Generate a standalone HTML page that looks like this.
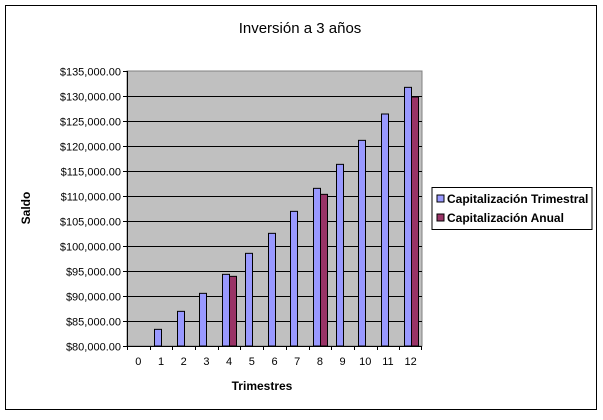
<!DOCTYPE html>
<html><head><meta charset="utf-8"><style>
body{margin:0;background:#fff;font-family:"Liberation Sans",Arial,sans-serif}
svg text{font-family:"Liberation Sans",Arial,sans-serif}
</style></head><body>
<svg id="c" width="603" height="415" xmlns="http://www.w3.org/2000/svg">
<rect x="5.5" y="5.5" width="591" height="404" fill="#fff" stroke="#000"/>
<text x="300" y="33" font-size="15" text-anchor="middle">Inversión a 3 años</text>
<rect x="127" y="71" width="295" height="275" fill="#c0c0c0" stroke="#808080"/>
<g id="grid"></g><g id="bars"></g><g id="axes"></g>
<text x="262" y="390" font-size="12" font-weight="bold" text-anchor="middle">Trimestres</text>
<text transform="translate(30,208) rotate(-90)" font-size="12" font-weight="bold" text-anchor="middle">Saldo</text>
<g>
<rect x="432" y="187.5" width="160" height="42" fill="#fff" stroke="#000"/>
<rect x="437" y="195" width="7" height="7" fill="#9999ff" stroke="#000"/>
<text x="447" y="203" font-size="12" font-weight="bold">Capitalización Trimestral</text>
<rect x="437" y="214" width="7" height="7" fill="#993366" stroke="#000"/>
<text x="447" y="222" font-size="12" font-weight="bold">Capitalización Anual</text>
</g>
</svg>
<script>
const categories=[0,1,2,3,4,5,6,7,8,9,10,11,12];
const trimestral=[null,83330,86930,90530,94330,98530,102530,106930,111530,116330,121130,126400,131730];
const anual=[null,null,null,null,93930,null,null,null,110330,null,null,null,129800];
const yTicks=[80000,85000,90000,95000,100000,105000,110000,115000,120000,125000,130000,135000];
const X0=127,X1=422,Y0=346,Y1=71,ymin=80000,ymax=135000;
const slot=(X1-X0)/categories.length;
const xc=i=>X0+slot*(i+0.5);
const y=v=>Y0-(v-ymin)/(ymax-ymin)*(Y0-Y1);
const NS="http://www.w3.org/2000/svg";
function mk(t,a,p){const e=document.createElementNS(NS,t);for(const k in a)e.setAttribute(k,a[k]);p.appendChild(e);return e;}
const grid=document.getElementById('grid'),bars=document.getElementById('bars'),axes=document.getElementById('axes');
yTicks.forEach(v=>{
 const yy=Math.round(y(v))+0.5;
 if(v>ymin&&v<ymax){const g=mk('line',{x1:X0,x2:X1,y1:yy,y2:yy,stroke:'#000'},grid);
 
 }
 mk('line',{x1:X0-4,x2:X0,y1:yy,y2:yy,stroke:'#000'},axes);
 const t=mk('text',{x:X0-6,y:yy+4,'font-size':11,'text-anchor':'end'},axes);
 t.textContent='$'+v.toLocaleString('en-US')+'.00';
 
 
});
mk('line',{x1:X0+0.5,x2:X0+0.5,y1:Y1,y2:Y0,stroke:'#000'},axes);
mk('line',{x1:X0,x2:X1,y1:Y0+0.5,y2:Y0+0.5,stroke:'#000'},axes);
categories.forEach((c,i)=>{
 const bx=Math.round(X0+slot*i)+0.5;
 mk('line',{x1:bx,x2:bx,y1:Y0,y2:Y0+4,stroke:'#000'},axes);
 const t=mk('text',{x:xc(i),y:Y0+19,'font-size':11,'text-anchor':'middle'},axes);
 t.textContent=c;
 
 
 const bw=7;
 if(trimestral[i]!=null){const r=mk('rect',{x:Math.round(xc(i))-bw+0.5,y:y(trimestral[i]),width:bw,height:Y0-y(trimestral[i]),fill:'#9999ff',stroke:'#000'},bars);
 
 }
 if(anual[i]!=null){const r=mk('rect',{x:Math.round(xc(i))+0.5,y:y(anual[i]),width:bw,height:Y0-y(anual[i]),fill:'#993366',stroke:'#000'},bars);
 
 }
});
const tk=mk('line',{x1:X1-0.5,x2:X1-0.5,y1:Y0,y2:Y0+4,stroke:'#000'},axes);
</script>
</body></html>
